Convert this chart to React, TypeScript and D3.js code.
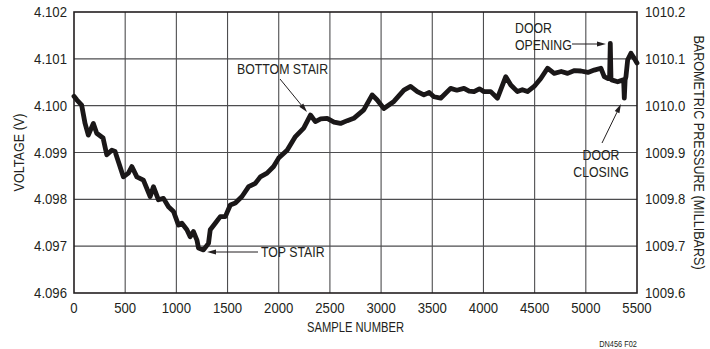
import React from 'react'
import * as d3 from 'd3'

// sample number / voltage pairs
const samples = [
  0, 29, 75, 108, 140, 165, 189, 222, 284, 320, 369, 401, 434, 482, 531, 565, 614, 678, 744, 776,
  825, 874, 923, 972, 1021, 1054, 1103, 1135, 1167, 1201, 1216, 1265, 1314, 1331, 1380, 1429, 1478, 1527, 1576, 1641,
  1706, 1771, 1820, 1886, 1950, 1999, 2082, 2163, 2244, 2310, 2358, 2410, 2473, 2540, 2603, 2670, 2733, 2831, 2913, 2962,
  3027, 3125, 3223, 3288, 3354, 3418, 3470, 3516, 3582, 3679, 3740, 3810, 3860, 3908, 3960, 4005, 4071, 4137, 4218, 4267,
  4332, 4380, 4430, 4495, 4560, 4626, 4691, 4760, 4822, 4890, 4952, 5020, 5082, 5147, 5180, 5213, 5232, 5239, 5246, 5252,
  5311, 5360, 5370, 5376, 5384, 5392, 5409, 5441, 5473, 5500,
]
const voltage = [
  4.1002, 4.10012, 4.10001, 4.09962, 4.09937, 4.0995, 4.09962, 4.09941, 4.09931, 4.09895, 4.09905, 4.09902, 4.0988, 4.09848, 4.09856, 4.0987, 4.09848, 4.09841, 4.09806, 4.09827,
  4.09799, 4.09802, 4.09784, 4.09774, 4.09745, 4.09749, 4.09735, 4.0972, 4.09731, 4.09713, 4.09696, 4.09692, 4.09706, 4.09735, 4.09749, 4.09763, 4.09763, 4.09788, 4.09792, 4.09806,
  4.09827, 4.09834, 4.09848, 4.09856, 4.0987, 4.09888, 4.09905, 4.09934, 4.09952, 4.0998, 4.09966, 4.09972, 4.09973, 4.09965, 4.09962, 4.09968, 4.09973, 4.09991, 4.10023, 4.10012,
  4.09994, 4.10009, 4.10033, 4.10041, 4.1003, 4.10023, 4.10028, 4.10019, 4.10016, 4.10037, 4.10033, 4.10037, 4.10031, 4.1003, 4.10036, 4.1003, 4.1003, 4.10016, 4.10062, 4.10044,
  4.1003, 4.10034, 4.1003, 4.10041, 4.10058, 4.1008, 4.10069, 4.10073, 4.10069, 4.10075, 4.10074, 4.10071, 4.10076, 4.1008, 4.10062, 4.10058, 4.10058, 4.10133, 4.10056, 4.10055,
  4.10051, 4.10055, 4.10052, 4.10016, 4.10055, 4.10062, 4.10098, 4.10112, 4.10101, 4.10091,
]

const xTicks = [0, 500, 1000, 1500, 2000, 2500, 3000, 3500, 4000, 4500, 5000, 5500]
const voltTicks = [4.096, 4.097, 4.098, 4.099, 4.1, 4.101, 4.102]
const pressTicks = [1009.6, 1009.7, 1009.8, 1009.9, 1010.0, 1010.1, 1010.2]

const W = 710
const H = 349
const m = { left: 74, right: 637, top: 12, bottom: 293 }
const font = "'Liberation Sans', Arial, sans-serif"
const ink = '#231f20'

// condensed-looking text: regular sans squeezed horizontally
function T({ x, y, children, anchor = 'start', size = 14, sx = 0.88, rot = 0 }:
  { x: number; y: number; children: React.ReactNode; anchor?: string; size?: number; sx?: number; rot?: number }) {
  return (
    <text
      transform={`translate(${x},${y}) rotate(${rot}) scale(${sx},1)`}
      textAnchor={anchor}
      fontFamily={font}
      fontSize={size}
      fill={ink}
    >
      {children}
    </text>
  )
}

function Arrow({ x1, y1, x2, y2 }: { x1: number; y1: number; x2: number; y2: number }) {
  const a = Math.atan2(y2 - y1, x2 - x1)
  const len = 9
  const hw = 2.6
  const bx = x2 - len * Math.cos(a)
  const by = y2 - len * Math.sin(a)
  const px = -Math.sin(a) * hw
  const py = Math.cos(a) * hw
  return (
    <g>
      <line x1={x1} y1={y1} x2={bx} y2={by} stroke={ink} strokeWidth={1} />
      <polygon points={`${x2},${y2} ${bx + px},${by + py} ${bx - px},${by - py}`} fill={ink} />
    </g>
  )
}

export default function App() {
  const x = d3.scaleLinear().domain([0, 5500]).range([m.left, m.right])
  const y = d3.scaleLinear().domain([4.096, 4.102]).range([m.bottom, m.top])
  const yr = d3.scaleLinear().domain([1009.6, 1010.2]).range([m.bottom, m.top])

  const pts = samples.map((s, i) => [s, voltage[i]] as [number, number])
  const line = d3.line<[number, number]>()
    .x(d => x(d[0]))
    .y(d => y(d[1]))

  return (
    <div style={{ position: 'absolute', left: 0, top: 0 }}>
      <svg width={W} height={H} style={{ display: 'block', background: '#fff' }}>
        {/* grid */}
        {xTicks.slice(1, -1).map(t => (
          <line key={'gx' + t} x1={x(t)} x2={x(t)} y1={m.top} y2={m.bottom} stroke="#4d4d4f" strokeWidth={1.1} />
        ))}
        {voltTicks.slice(1, -1).map(t => (
          <line key={'gy' + t} x1={m.left} x2={m.right} y1={y(t)} y2={y(t)} stroke="#4d4d4f" strokeWidth={1.1} />
        ))}
        <rect x={m.left} y={m.top} width={m.right - m.left} height={m.bottom - m.top} fill="none" stroke={ink} strokeWidth={1.6} />

        {/* trace */}
        <path d={line(pts) || ''} fill="none" stroke="#1a1718" strokeWidth={4.8} strokeLinejoin="round" strokeLinecap="round" />

        {voltTicks.map(t => (
          <T key={'vl' + t} x={67} y={y(t) + 5} anchor="end" sx={0.94}>{t.toFixed(3)}</T>
        ))}
        {pressTicks.map(t => (
          <T key={'pr' + t} x={645} y={yr(t) + 5} sx={0.94}>{t.toFixed(1)}</T>
        ))}
        {xTicks.map(t => (
          <T key={'xt' + t} x={x(t)} y={313} anchor="middle" sx={0.94}>{t}</T>
        ))}

        <T x={(m.left + m.right) / 2} y={332} anchor="middle" size={14} sx={0.8}>SAMPLE NUMBER</T>
        <T x={24} y={(m.top + m.bottom) / 2} anchor="middle" rot={-90} sx={0.9}>VOLTAGE (V)</T>
        <T x={694} y={(m.top + m.bottom) / 2} anchor="middle" rot={90} sx={0.9}>BAROMETRIC PRESSURE (MILLIBARS)</T>
        <T x={618} y={347} anchor="middle" size={9} sx={0.82}>DN456 F02</T>

        {/* annotations */}
        <T x={237} y={74}>BOTTOM STAIR</T>
        <Arrow x1={280} y1={79} x2={307} y2={112} />

        <T x={261} y={257}>TOP STAIR</T>
        <Arrow x1={258} y1={252} x2={207} y2={252} />

        <T x={515} y={33}>DOOR</T>
        <T x={515} y={50}>OPENING</T>
        <Arrow x1={572} y1={44} x2={606} y2={44} />

        <T x={601} y={160} anchor="middle">DOOR</T>
        <T x={601} y={177} anchor="middle">CLOSING</T>
        <Arrow x1={602} y1={143} x2={621} y2={104} />
      </svg>
    </div>
  )
}
